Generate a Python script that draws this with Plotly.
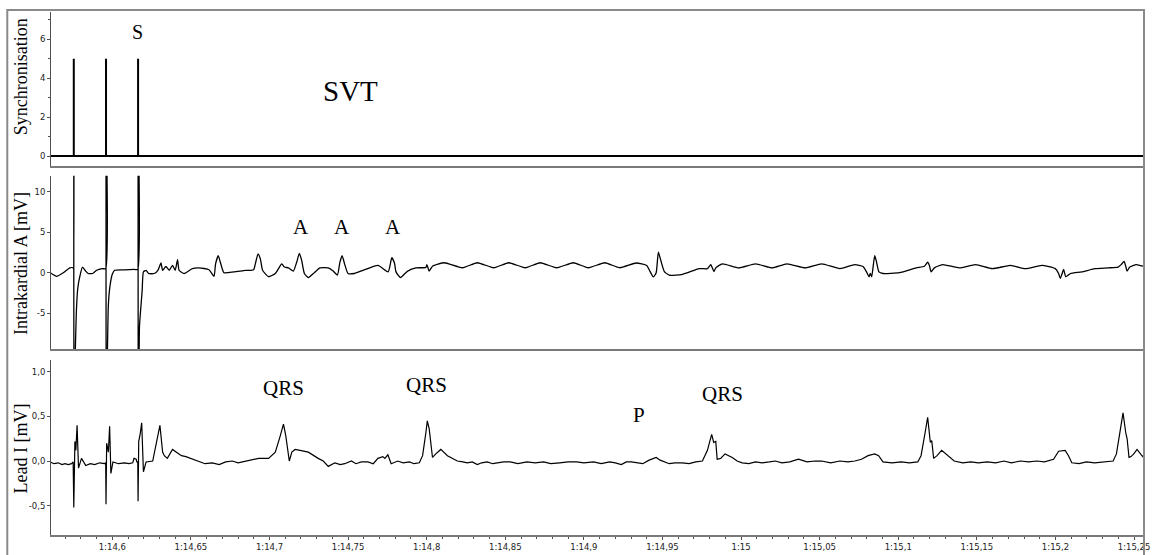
import plotly.graph_objects as go
from plotly.subplots import make_subplots

# ---------------------------------------------------------------------------
# Time axis (seconds); tick labels in m:ss,fff notation
# ---------------------------------------------------------------------------
X_RANGE = [74.561, 75.2557]
tick_times = [74.60, 74.65, 74.70, 74.75, 74.80, 74.85, 74.90, 74.95,
              75.00, 75.05, 75.10, 75.15, 75.20, 75.25]
tick_labels = ["1:14,6", "1:14,65", "1:14,7", "1:14,75", "1:14,8", "1:14,85",
               "1:14,9", "1:14,95", "1:15", "1:15,05", "1:15,1", "1:15,15",
               "1:15,2", "1:15,25"]

# ---------------------------------------------------------------------------
# Synchronisation channel: stimulus markers
# ---------------------------------------------------------------------------
stim_t = [74.5755, 74.5960, 74.6164]
stim_level = 5

# ---------------------------------------------------------------------------
# Intracardiac atrial electrogram [mV]
# ---------------------------------------------------------------------------
intra_t = [
    74.5604, 74.5646, 74.5688, 74.5730, 74.5751, 74.5754,
    74.5755, 74.5756, 74.5762, 74.5771, 74.5780, 74.5793, 74.5810, 74.5830,
    74.5846, 74.5875, 74.5900, 74.5935, 74.5958,
    74.5960, 74.5961, 74.5967, 74.5975, 74.5985, 74.6000, 74.6015, 74.6080,
    74.6140, 74.6162,
    74.6164, 74.6165, 74.6170, 74.6173, 74.6190, 74.6198, 74.6215, 74.6231,
    74.6267, 74.6290, 74.6310, 74.6320, 74.6341, 74.6362, 74.6383, 74.6400,
    74.6415, 74.6425, 74.6457, 74.6509, 74.6552, 74.6615, 74.6647, 74.6657,
    74.6674, 74.6690, 74.6710, 74.6773, 74.6847, 74.6899, 74.6910, 74.6927,
    74.6942, 74.6956, 74.6994, 74.7037, 74.7078, 74.7095, 74.7121, 74.7152,
    74.7173, 74.7190, 74.7205, 74.7222, 74.7247, 74.7285, 74.7321, 74.7374,
    74.7405, 74.7432, 74.7448, 74.7462, 74.7479, 74.7500, 74.7540, 74.7606,
    74.7690, 74.7755, 74.7778, 74.7795, 74.7805, 74.7833, 74.7879, 74.7932,
    74.7995, 74.8001, 74.8016, 74.8037, 74.8111,
    74.8227, 74.8322, 74.8427, 74.8522, 74.8627, 74.8722, 74.8827, 74.8933,
    74.9028, 74.9133, 74.9228, 74.9333,
    74.9400, 74.9417, 74.9442, 74.9460, 74.9474, 74.9491, 74.9512, 74.9543,
    74.9628, 74.9733, 74.9786, 74.9807, 74.9815, 74.9828, 74.9839, 74.9881,
    74.9986, 75.0092, 75.0197, 75.0292, 75.0408, 75.0513, 75.0629, 75.0724,
    75.0776, 75.0798, 75.0814, 75.0822, 75.0831, 75.0850, 75.0861, 75.0877,
    75.0903, 75.1008, 75.1114, 75.1166, 75.1187, 75.1198, 75.1209, 75.1230,
    75.1282, 75.1388, 75.1493, 75.1598, 75.1714, 75.1809, 75.1914, 75.1999,
    75.2020, 75.2031, 75.2041, 75.2052, 75.2066, 75.2096, 75.2167, 75.2252,
    75.2336, 75.2399, 75.2418, 75.2437, 75.2447, 75.2456, 75.2473, 75.2515,
    75.2557,
]
intra_mv = [
    0.0, -0.45, 0.0, 0.6, 0.6, 0.4,
    20.0, -20.0, -12.0, -5.0, -2.0, -0.5, 0.7, 0.2,
    -0.1, -0.1, 0.3, 0.5, 0.5,
    20.0, -20.0, -12.0, -4.0, -1.7, -0.2, 0.3, 0.35,
    0.4, 0.4,
    20.0, -20.0, -12.0, -6.6, -2.2, 0.1, 0.28, -0.1,
    -0.1, 0.3, 1.2, 0.3, 0.77, 0.3, 0.9, 0.3,
    1.6, 0.3, -0.1, 0.5, 0.6, 0.37, -0.45, 1.1,
    2.1, 1.1, 0.0, 0.1, 0.28, 0.37, 1.1, 2.33,
    1.7, 0.3, -0.5, -0.1, 1.1, 0.7, 0.6, 0.2,
    1.3, 2.4, 1.5, -0.1, -0.6, 0.0, 0.6, 0.6,
    0.2, -0.3, 1.3, 2.1, 1.0, -0.1, -0.1, 0.37,
    0.9, 0.1, 1.85, 1.2, 0.1, -0.6, 0.2, 0.6,
    0.65, 1.0, 0.2, 0.8, 1.23,
    0.61, 1.23, 0.61, 1.23, 0.61, 1.23, 0.61, 1.23,
    0.61, 1.23, 0.61, 1.2,
    0.9, 0.3, -0.53, 0.0, 2.54, 1.4, 0.14, -0.3,
    -0.2, 0.5, 0.5, 1.0, 0.7, 0.14, 0.6, 1.1,
    0.6, 1.1, 0.6, 1.1, 0.6, 1.1, 0.5, 1.0,
    0.77, 0.1, -0.5, -0.1, -0.5, 2.1, 1.4, 0.1,
    -0.1, 0.0, 0.6, 0.8, 1.3, 0.9, 0.1, 0.6,
    1.0, 0.6, 1.0, 0.5, 0.9, 0.5, 0.9, 0.5,
    -0.1, -0.7, -0.2, 0.4, -0.5, -0.1, 0.1, 0.5,
    0.6, 0.7, 1.0, 1.4, 0.8, 0.2, 0.7, 1.0,
    0.8,
]

# ---------------------------------------------------------------------------
# Surface ECG, lead I [mV]
# ---------------------------------------------------------------------------
lead_t = [
    74.5604, 74.5630, 74.5656, 74.5680, 74.5699, 74.5720, 74.5741, 74.5751,
    74.5755, 74.5762, 74.5768, 74.5776, 74.5785, 74.5804, 74.5831, 74.5860,
    74.5888, 74.5920, 74.5951, 74.5958,
    74.5960, 74.5964, 74.5975, 74.5983, 74.5991, 74.6004, 74.6040, 74.6078,
    74.6105, 74.6130, 74.6138, 74.6152, 74.6156, 74.6162,
    74.6164, 74.6168, 74.6177, 74.6187, 74.6198, 74.6215, 74.6257, 74.6278,
    74.6303, 74.6320, 74.6331, 74.6350, 74.6383, 74.6415, 74.6440, 74.6468,
    74.6499, 74.6552, 74.6590, 74.6636, 74.6680, 74.6721, 74.6763, 74.6800,
    74.6847, 74.6890, 74.6931, 74.6994, 74.7037,
    74.7068, 74.7089, 74.7104, 74.7117, 74.7126, 74.7142, 74.7163, 74.7195,
    74.7247, 74.7310, 74.7342, 74.7374, 74.7416, 74.7450, 74.7479, 74.7521,
    74.7550, 74.7584, 74.7626, 74.7660, 74.7690, 74.7721, 74.7734, 74.7753,
    74.7774, 74.7816, 74.7850, 74.7890, 74.7920,
    74.7953, 74.7974, 74.7995, 74.8004, 74.8016, 74.8027, 74.8037, 74.8058,
    74.8090, 74.8132, 74.8195, 74.8230, 74.8258, 74.8290, 74.8322, 74.8350,
    74.8385, 74.8420, 74.8448, 74.8490, 74.8532, 74.8580, 74.8638, 74.8690,
    74.8743, 74.8790, 74.8846, 74.8900, 74.8954, 74.9000, 74.9061, 74.9110,
    74.9164, 74.9200, 74.9238, 74.9270, 74.9301, 74.9340,
    74.9375, 74.9415, 74.9460, 74.9485, 74.9512, 74.9543, 74.9580, 74.9624,
    74.9670, 74.9712, 74.9754, 74.9786, 74.9813, 74.9826, 74.9839, 74.9848,
    74.9870, 74.9898, 74.9944, 74.9975, 75.0007, 75.0050, 75.0092, 75.0134,
    75.0180, 75.0218, 75.0260, 75.0310, 75.0365, 75.0420, 75.0470, 75.0513,
    75.0570, 75.0629, 75.0680, 75.0724,
    75.0766, 75.0808, 75.0850, 75.0875, 75.0903, 75.0960, 75.1019, 75.1070,
    75.1124, 75.1145, 75.1171, 75.1187, 75.1204, 75.1213, 75.1225, 75.1247,
    75.1276, 75.1313, 75.1356, 75.1410, 75.1462, 75.1510, 75.1566, 75.1620,
    75.1672, 75.1720, 75.1777, 75.1830, 75.1880, 75.1930, 75.1988,
    75.2020, 75.2062, 75.2083, 75.2104, 75.2150, 75.2198, 75.2250, 75.2304,
    75.2367, 75.2388, 75.2410, 75.2430, 75.2447, 75.2456, 75.2468, 75.2481,
    75.2498, 75.2519, 75.2546, 75.2561,
]
lead_mv = [
    -0.01, -0.03, -0.02, -0.04, -0.03, -0.04, -0.03, -0.01,
    -0.52, 0.22, 0.12, 0.40, -0.08, 0.03, -0.05, -0.03,
    -0.04, -0.02, -0.03, -0.02,
    -0.485, 0.20, 0.10, 0.39, -0.14, -0.01, -0.03, -0.02,
    -0.03, -0.02, 0.03, 0.02, -0.01, -0.01,
    -0.45, 0.22, 0.30, 0.43, -0.12, -0.01, 0.0, 0.17,
    0.40, 0.10, 0.06, 0.03, 0.13, 0.09, 0.06, 0.05,
    0.03, 0.0, -0.03, -0.02, -0.04, -0.01, 0.0, -0.02,
    0.0, 0.01, 0.03, 0.03, 0.10,
    0.28, 0.415, 0.28, 0.07, 0.0, 0.10, 0.13, 0.12,
    0.10, 0.03, 0.0, -0.06, -0.02, -0.04, -0.03, 0.0,
    -0.03, -0.01, -0.01, -0.03, 0.03, 0.05, 0.03, 0.07,
    -0.03, 0.0, -0.02, -0.01, -0.03,
    -0.02, 0.06, 0.32, 0.45, 0.36, 0.15, 0.04, 0.08,
    0.13, 0.06, 0.0, -0.01, -0.02, -0.01, -0.04, -0.02,
    -0.01, -0.03, -0.02, -0.01, -0.01, -0.03, -0.01, -0.02,
    -0.01, -0.03, -0.02, -0.01, -0.01, -0.02, -0.01, -0.03,
    -0.01, -0.02, -0.04, -0.01, -0.01, -0.02,
    -0.03, 0.01, 0.04, 0.01, -0.01, -0.03, -0.02, -0.02,
    -0.03, -0.01, 0.0, 0.12, 0.30, 0.21, 0.22, 0.02,
    0.03, 0.08, 0.04, 0.0, -0.02, -0.03, -0.01, -0.02,
    -0.01, 0.0, -0.02, -0.01, 0.02, -0.01, 0.0, 0.0,
    -0.02, 0.0, -0.01, 0.0,
    0.02, 0.06, 0.08, 0.06, -0.01, -0.02, -0.01, -0.02,
    -0.01, 0.06, 0.32, 0.49, 0.21, 0.23, 0.03, 0.06,
    0.12, 0.06, 0.0, -0.02, -0.01, -0.02, -0.01, -0.02,
    0.0, -0.02, 0.0, -0.01, 0.0, -0.01, 0.02,
    0.11, 0.12, 0.06, -0.02, -0.03, -0.01, -0.02, -0.01,
    0.0, 0.08, 0.32, 0.54, 0.32, 0.25, 0.04, 0.05,
    0.08, 0.13, 0.07, 0.04,
]

# Y-axis ticks per channel
sync_ticks = [0, 2, 4, 6]
sync_tick_text = ["0", "2", "4", "6"]
intra_ticks = [-5, 0, 5, 10]
intra_tick_text = ["-5", "0", "5", "10"]
lead_ticks = [-0.5, 0.0, 0.5, 1.0]
lead_tick_text = ["-0,5", "0,0", "0,5", "1,0"]

# Event markers written onto the traces
sync_marks = [("S", 74.6163, 6.36, 20), ("SVT", 74.7513, 3.33, 29)]
atrial_marks = [("A", 74.7203, 5.65), ("A", 74.7462, 5.65), ("A", 74.7784, 5.65)]
ecg_marks = [("QRS", 74.7089, 0.82), ("QRS", 74.8001, 0.85),
             ("P", 74.9352, 0.52), ("QRS", 74.9883, 0.75)]

# ---------------------------------------------------------------------------
SERIF = "Liberation Serif, Times New Roman, serif"
SANS = "DejaVu Sans, Verdana, sans-serif"
AXIS_GREY = "#7a7a7a"
TRACE = "#000000"

fig = make_subplots(rows=3, cols=1, shared_xaxes=True)

# synchronisation channel: baseline plus one vertical marker per stimulus
fig.add_trace(go.Scatter(x=X_RANGE, y=[0, 0], mode="lines",
                         line=dict(color=TRACE, width=2), hoverinfo="skip"),
              row=1, col=1)
sx, sy = [], []
for t in stim_t:
    sx += [t, t, None]
    sy += [0, stim_level, None]
fig.add_trace(go.Scatter(x=sx, y=sy, mode="lines", connectgaps=False,
                         line=dict(color=TRACE, width=2)), row=1, col=1)

fig.add_trace(go.Scatter(x=intra_t, y=intra_mv, mode="lines",
                         line=dict(color=TRACE, width=1.3, shape="spline",
                                   smoothing=0.5)),
              row=2, col=1)
fig.add_trace(go.Scatter(x=lead_t, y=lead_mv, mode="lines",
                         line=dict(color=TRACE, width=1.2)),
              row=3, col=1)

# panel geometry (fractions of the plotting height)
domains = [[0.7059, 1.0], [0.3548, 0.6869], [0.0, 0.3340]]
y_ranges = [[-0.5, 7.4], [-9.5, 12.0], [-0.83, 1.13]]
y_ticks = [(sync_ticks, sync_tick_text), (intra_ticks, intra_tick_text),
           (lead_ticks, lead_tick_text)]

tick_font = dict(family=SANS, size=8.5, color="#222222")

for i in range(3):
    suffix = "" if i == 0 else str(i + 1)
    yax = dict(domain=domains[i], range=y_ranges[i], showgrid=False,
               zeroline=False, showline=True, linecolor="#505050", linewidth=1,
               ticks="outside", ticklen=3, tickcolor="#505050",
               tickmode="array", tickvals=y_ticks[i][0],
               ticktext=y_ticks[i][1], tickfont=tick_font)
    if i == 0:
        yax["minor"] = dict(tickmode="linear", tick0=0, dtick=1,
                            ticks="outside", ticklen=2, tickcolor="#505050")
    fig.layout["yaxis" + suffix].update(yax)

    xax = dict(range=X_RANGE, showgrid=False, zeroline=False, showline=True,
               linecolor=AXIS_GREY, linewidth=2)
    if i < 2:
        xax.update(ticks="", showticklabels=False)
    else:
        xax.update(tickmode="array", tickvals=tick_times, ticktext=tick_labels,
                   ticks="outside", ticklen=3, tickcolor="#505050",
                   tickfont=tick_font, ticklabeloverflow="allow",
                   showticklabels=True,
                   minor=dict(tickmode="linear", tick0=74.6, dtick=0.01,
                              ticks="outside", ticklen=2, tickcolor="#505050"))
    fig.layout["xaxis" + suffix].update(xax)

annotations = []
# channel names
for text, yc in [("Synchronisation", 0.8757), ("Intrakardial A [mV]", 0.5184),
                 ("Lead I [mV]", 0.1657)]:
    annotations.append(dict(text=text, xref="paper", yref="paper", x=-0.0273,
                            y=yc, xanchor="center", yanchor="middle",
                            textangle=-90, showarrow=False,
                            font=dict(family=SERIF, size=18, color="#000")))
for text, t, v, size in sync_marks:
    annotations.append(dict(text=text, xref="x", yref="y", x=t, y=v,
                            showarrow=False,
                            font=dict(family=SERIF, size=size, color="#000")))
for text, t, v in atrial_marks:
    annotations.append(dict(text=text, xref="x2", yref="y2", x=t, y=v,
                            showarrow=False,
                            font=dict(family=SERIF, size=21, color="#000")))
for text, t, v in ecg_marks:
    annotations.append(dict(text=text, xref="x3", yref="y3", x=t, y=v,
                            showarrow=False,
                            font=dict(family=SERIF, size=21, color="#000")))

# outer window frame
shapes = [dict(type="rect", xref="paper", yref="paper",
               x0=-0.04004, x1=1.00091, y0=-0.05, y1=1.0038,
               line=dict(color="#8a8a8a", width=2), fillcolor="rgba(0,0,0,0)",
               layer="above")]

fig.update_layout(
    width=1153, height=555, autosize=False,
    margin=dict(l=51, r=3, t=12, b=16, pad=0),
    paper_bgcolor="white", plot_bgcolor="white",
    showlegend=False,
    annotations=annotations,
    shapes=shapes,
)

fig.write_html("out.html")
